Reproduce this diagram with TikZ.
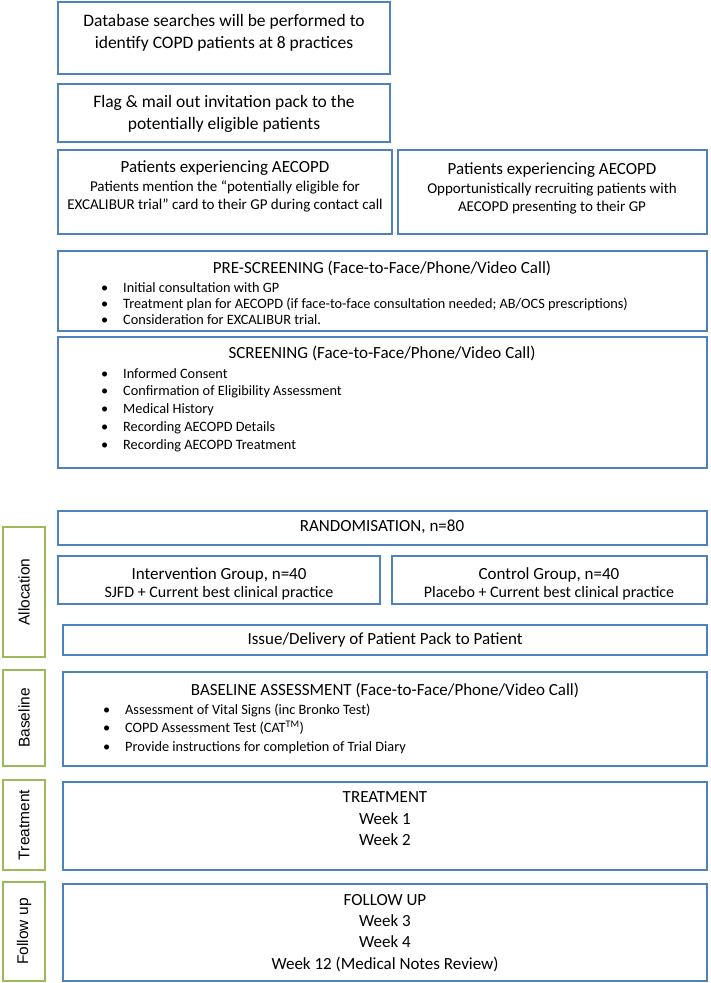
\documentclass[tikz,border=0pt]{standalone}
\usepackage{fontspec}
\setmainfont{Carlito}
\newfontfamily\sidefont{Liberation Sans}
\definecolor{bblue}{HTML}{4F81BD}
\definecolor{bgreen}{HTML}{9BBB59}
\newcommand\boxat[6]{\node[#1, anchor=north west, minimum width={(#4-#2)*1pt}, minimum height={(#5-#3)*1pt}] (#6) at (#2,#3) {};}
\newcommand\bul[1]{\makebox[22pt][l]{\textbullet}#1}
\begin{document}
\begin{tikzpicture}[x=1pt,y=-1pt,
  bluebox/.style={draw=bblue, line width=2.6pt, inner sep=0pt, outer sep=0pt},
  greenbox/.style={draw=bgreen, line width=2.6pt, inner sep=0pt, outer sep=0pt},
  big/.style={font=\fontsize{17.5}{22}\selectfont, align=center, inner sep=0pt},
  ttl/.style={font=\fontsize{17}{20}\selectfont, align=center, inner sep=0pt},
  sub/.style={font=\fontsize{15}{18.5}\selectfont, align=center, inner sep=0pt},
  lst/.style={font=\fontsize{14.3}{16.7}\selectfont, align=left, inner sep=0pt, anchor=north west},
  side/.style={font=\sidefont\fontsize{15.5}{17}\selectfont, rotate=90, inner sep=0pt}]
\useasboundingbox (0,0) rectangle (711,983);
% top boxes
\boxat{bluebox}{58}{2}{390}{74}{b1}
\node[big] (t1) at (224,32.5) {Database searches will be performed to\\identify COPD patients at 8 practices};
\boxat{bluebox}{58}{84}{390}{142}{b2}
\node[big] (t2) at (224,114) {Flag \& mail out invitation pack to the\\potentially eligible patients};
\boxat{bluebox}{58}{150}{392}{234}{b3}
\node[ttl] (t3a) at (225,168) {Patients experiencing AECOPD};
\node[sub] (t3b) at (225,196.5) {Patients mention the “potentially eligible for\\EXCALIBUR trial” card to their GP during contact call};
\boxat{bluebox}{398}{150}{707}{234}{b4}
\node[ttl] (t4a) at (552,170) {Patients experiencing AECOPD};
\node[sub] (t4b) at (552,198.5) {Opportunistically recruiting patients with\\AECOPD presenting to their GP};
% pre-screening
\boxat{bluebox}{58}{251}{707}{331}{b5}
\node[ttl] (t5) at (382,268.5) {PRE-SCREENING (Face-to-Face/Phone/Video Call)};
\node[lst, font=\fontsize{14.3}{16.2}\selectfont] (l5) at (101,282) {\bul{Initial consultation with GP}\\\bul{Treatment plan for AECOPD (if face-to-face consultation needed; AB/OCS prescriptions)}\\\bul{Consideration for EXCALIBUR trial.}};
% screening
\boxat{bluebox}{58}{337}{707}{468}{b6}
\node[ttl] (t6) at (382,353) {SCREENING (Face-to-Face/Phone/Video Call)};
\node[lst, font=\fontsize{14.3}{17.8}\selectfont] (l6) at (101,368) {\bul{Informed Consent}\\\bul{Confirmation of Eligibility Assessment}\\\bul{Medical History}\\\bul{Recording AECOPD Details}\\\bul{Recording AECOPD Treatment}};
% randomisation
\boxat{bluebox}{58}{511}{707}{545}{b7}
\node[ttl] (t7) at (382,527) {RANDOMISATION, n=80};
\boxat{bluebox}{58}{556}{380}{604}{b8}
\node[ttl] (t8a) at (219,575) {Intervention Group, n=40};
\node[sub, font=\fontsize{16}{18}\selectfont] (t8b) at (219,593) {SJFD + Current best clinical practice};
\boxat{bluebox}{392}{556}{707}{604}{b9}
\node[ttl] (t9a) at (549,575) {Control Group, n=40};
\node[sub, font=\fontsize{16}{18}\selectfont] (t9b) at (549,593) {Placebo + Current best clinical practice};
\boxat{bluebox}{63}{625}{707}{655}{b10}
\node[ttl] (t10) at (385,640) {Issue/Delivery of Patient Pack to Patient};
\boxat{greenbox}{3}{527}{45}{657}{g1}
\node[side] (s1) at (g1) {Allocation};
% baseline
\boxat{bluebox}{63}{672}{707}{766}{b11}
\node[ttl] (t11) at (385,690) {BASELINE ASSESSMENT (Face-to-Face/Phone/Video Call)};
\node[lst, font=\fontsize{14.3}{18.5}\selectfont] (l11) at (103,703.5) {\bul{Assessment of Vital Signs (inc Bronko Test)}\\\bul{COPD Assessment Test (CAT\textsuperscript{TM})}\\\bul{Provide instructions for completion of Trial Diary}};
\boxat{greenbox}{3}{670}{45}{766}{g2}
\node[side] (s2) at (g2) {Baseline};
% treatment
\boxat{bluebox}{63}{782}{707}{870}{b12}
\node[ttl, font=\fontsize{17}{21.5}\selectfont] (t12) at (385,819) {TREATMENT\\Week 1\\Week 2};
\boxat{greenbox}{3}{780}{45}{870}{g3}
\node[side] (s3) at (g3) {Treatment};
% follow up
\boxat{bluebox}{63}{884}{707}{981}{b13}
\node[ttl, font=\fontsize{17}{21.3}\selectfont] (t13) at (385,933) {FOLLOW UP\\Week 3\\Week 4\\Week 12 (Medical Notes Review)};
\boxat{greenbox}{3}{882}{45}{981}{g4}
\node[side] (s4) at (g4) {Follow up};
\end{tikzpicture}
\end{document}
